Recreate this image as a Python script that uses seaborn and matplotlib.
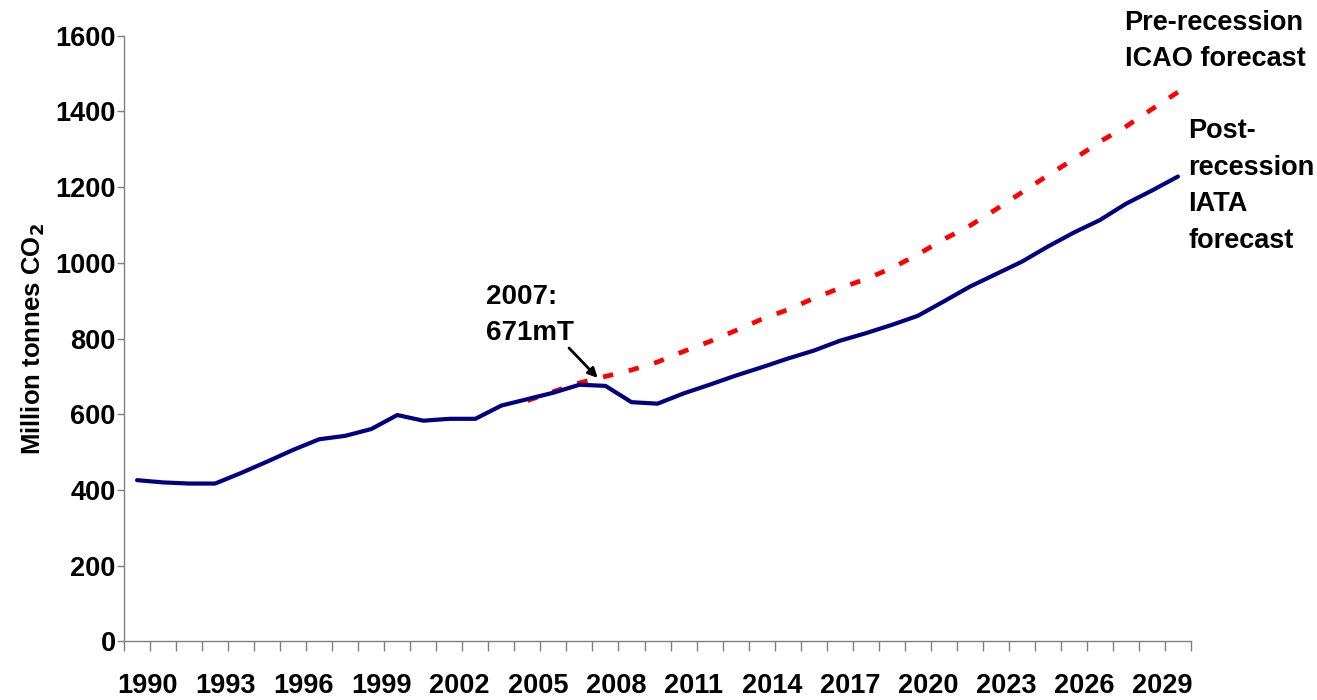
import seaborn as sns
import matplotlib.pyplot as plt
import numpy as np
import pandas as pd

# Data (million tonnes CO2)
years = list(range(1990, 2031))
iata_post = [426, 420, 417, 417, 445, 475, 506, 534, 543, 561,
             598, 583, 588, 588, 623, 640, 657, 678, 675, 632,
             628, 655, 678, 702, 724, 747, 768, 794, 814, 836,
             860, 898, 937, 970, 1003, 1043, 1080, 1113, 1156, 1191,
             1228]
icao_years = list(range(2005, 2031))
icao_pre = [636, 660, 683, 700, 717, 738, 766, 792, 821, 851,
            876, 906, 933, 957, 986, 1022, 1062, 1098, 1141, 1186,
            1231, 1274, 1320, 1360, 1406, 1451]
label_years = years[::3][:14]  # 1990, 1993, ... 2029

sns.set_style('white')
plt.rcParams['font.family'] = ['Liberation Sans', 'DejaVu Sans']
plt.rcParams['font.weight'] = 'bold'
plt.rcParams['text.color'] = 'black'
plt.rcParams['axes.labelcolor'] = 'black'
plt.rcParams['xtick.color'] = 'black'
plt.rcParams['ytick.color'] = 'black'

df_iata = pd.DataFrame({'pos': [y - 1990 for y in years], 'val': iata_post})
df_icao = pd.DataFrame({'pos': [y - 1990 for y in icao_years], 'val': icao_pre})

fig = plt.figure(figsize=(13.17, 7), dpi=100)
ax = fig.add_axes([0.0942, 0.0837, 0.8101, 0.8653])

sns.lineplot(data=df_icao, x='pos', y='val', ax=ax, color='#ff0000', lw=3.4,
             linestyle=(0, (2.2, 3.4)), zorder=2)
sns.lineplot(data=df_iata, x='pos', y='val', ax=ax, color='#000080', lw=3.0,
             zorder=3)

ax.set_xlim(-0.5, len(years) - 0.5)
ax.set_ylim(0, 1600)
ax.set_yticks(range(0, 1601, 200))
ax.tick_params(axis='y', left=True, labelsize=19.5, length=5, width=1,
               color='#808080', labelcolor='black', pad=1)

# tick marks between categories, labels every third year
ax.set_xticks(np.arange(-0.5, len(years), 1.0))
ax.set_xticklabels([])
ax.tick_params(axis='x', which='major', bottom=True, length=7, width=1,
               color='#808080')
ax.set_xticks([y - 1990 + 0.4 for y in label_years], minor=True)
ax.set_xticklabels([str(y) for y in label_years], minor=True)
ax.tick_params(axis='x', which='minor', bottom=True, length=0, labelsize=19.5,
               labelcolor='black', pad=22.5)

for side in ['top', 'right']:
    ax.spines[side].set_visible(False)
for side in ['left', 'bottom']:
    ax.spines[side].set_color('#808080')
    ax.spines[side].set_linewidth(1)

ax.set_xlabel('')
ax.set_ylabel(r'Million tonnes CO$_\mathbf{2}$', fontsize=18.5, fontweight='bold',
              labelpad=6)

ax.text(13.4, 862, '2007:\n671mT', fontsize=20, fontweight='bold',
        ha='left', va='center', linespacing=1.48)
ax.annotate('', xy=(17.7, 696), xytext=(16.6, 775),
            arrowprops=dict(arrowstyle='-|>', color='black', lw=2,
                            shrinkA=0, shrinkB=0, mutation_scale=14))

ax.text(37.95, 1586, 'Pre-recession\nICAO forecast', fontsize=19.5,
        fontweight='bold', ha='left', va='center', linespacing=1.54,
        clip_on=False)
ax.text(40.4, 1203, 'Post-\nrecession\nIATA\nforecast', fontsize=19.5,
        fontweight='bold', ha='left', va='center', linespacing=1.53,
        clip_on=False)

plt.savefig('out.png', dpi=100)
